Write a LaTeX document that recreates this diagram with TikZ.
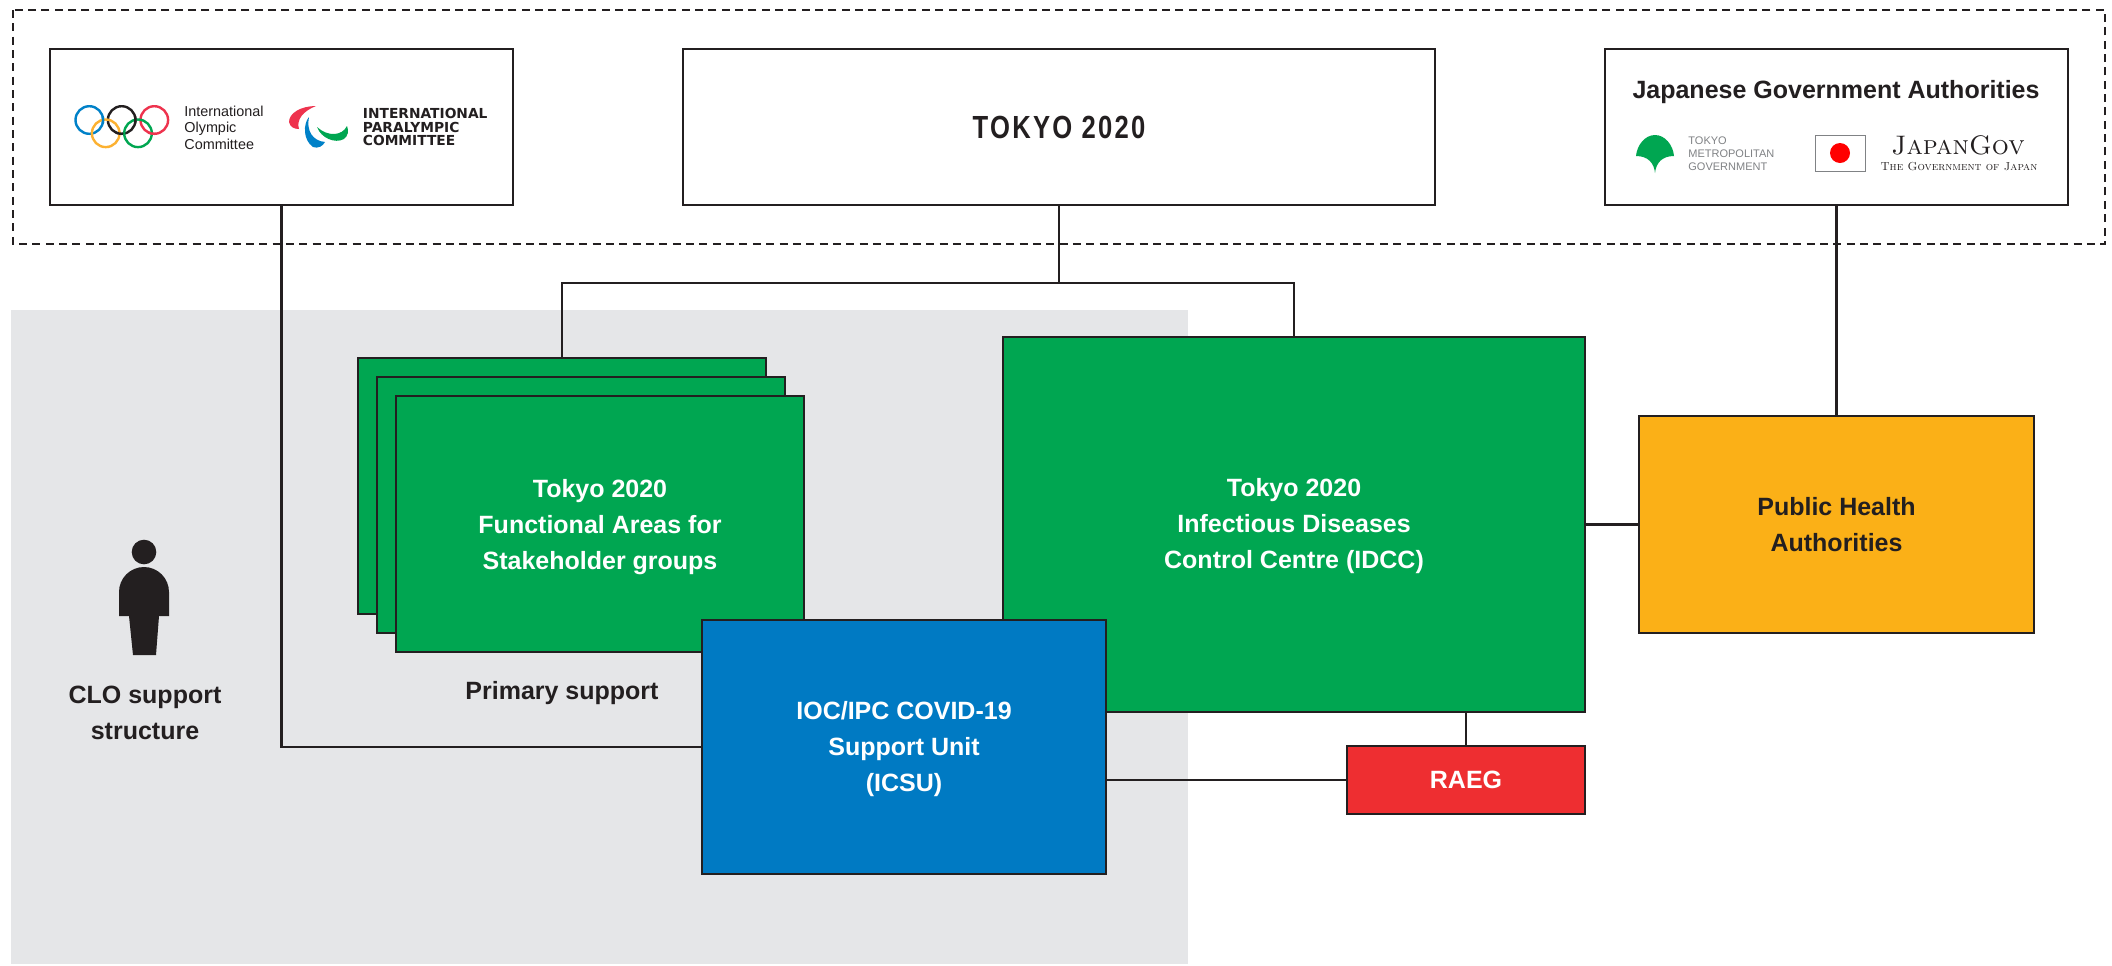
\documentclass[tikz,border=0pt]{standalone}
\usepackage{fontspec}
\setsansfont{Liberation Sans}
\newfontfamily\tokyofont[FakeStretch=0.8,LetterSpace=7]{Liberation Sans}
\newfontfamily\ipcfont{DejaVu Sans}
\usepackage{tikz}
\usetikzlibrary{positioning}
\definecolor{InkBlack}{HTML}{231F20}
\definecolor{SheetGrey}{HTML}{E5E6E8}
\definecolor{IdccGreen}{HTML}{00A651}
\definecolor{IcsuBlue}{HTML}{007AC3}
\definecolor{PhaYellow}{HTML}{FBB017}
\definecolor{RaegRed}{HTML}{EE2E31}
\definecolor{RingBlue}{HTML}{0081C8}
\definecolor{RingRed}{HTML}{EE334E}
\definecolor{RingYellow}{HTML}{FCB131}
\definecolor{GovGrey}{HTML}{808285}
\newcommand{\toppad}{\rule{0pt}{12.2pt}}
\newcommand{\toppadsmall}{\rule{0pt}{11pt}}
\tikzset{
  chartbox/.style={draw=InkBlack,line width=1.4pt,inner sep=0pt,outer sep=0pt,align=center,
    font=\sffamily\bfseries\fontsize{12.5}{18}\selectfont},
  whitebox/.style={chartbox,fill=white,text=InkBlack},
  colourbox/.style={chartbox,fill=#1,text=white},
  link/.style={draw=InkBlack,line width=1.3pt},
  plainlabel/.style={inner sep=0pt,outer sep=0pt,align=center,text=InkBlack,
    font=\sffamily\bfseries\fontsize{12.5}{18}\selectfont},
  ring/.style={line width=1.2pt,draw=#1}
}
\begin{document}
\begin{tikzpicture}[x=0.5pt,y=-0.5pt]
\useasboundingbox (0,0) rectangle (2112,965);
\fill[SheetGrey] (11,310) rectangle (1188,964);
\draw[InkBlack,line width=1.4pt,dash pattern=on 4pt off 2.67pt] (13,10) rectangle (2105,244);

\node[whitebox,minimum width=231.5pt,minimum height=78pt] (iocbox) at (281.5,127) {};
\node[whitebox,minimum width=376pt,minimum height=78pt] (tokyobox) at (1059,127)
{\tokyofont\bfseries\fontsize{16}{18}\selectfont TOKYO 2020};
\node[whitebox,minimum width=231.5pt,minimum height=78pt] (japanbox) at (1836.5,127) {};

\node[colourbox=IdccGreen,minimum width=204pt,minimum height=128pt] (fabox1) at (562,486) {};
\node[colourbox=IdccGreen,minimum width=204pt,minimum height=128pt] (fabox2) at (581,505) {};
\node[colourbox=IdccGreen,minimum width=204pt,minimum height=128pt] (fabox3) at (600,524)
{\toppad Tokyo 2020\\Functional Areas for\\Stakeholder groups};
\node[colourbox=IdccGreen,minimum width=291pt,minimum height=187.5pt] (idccbox) at (1294,524.5)
{\toppadsmall Tokyo 2020\\Infectious Diseases\\Control Centre (IDCC)};
\node[colourbox=PhaYellow,text=InkBlack,minimum width=197.5pt,minimum height=108.5pt] (phabox) at (1836.5,524.5)
{Public Health\\Authorities};
\node[colourbox=IcsuBlue,minimum width=202pt,minimum height=127pt] (icsubox) at (904,747)
{\toppadsmall IOC/IPC COVID-19\\Support Unit\\(ICSU)};
\node[colourbox=RaegRed,minimum width=119pt,minimum height=34pt] (raegbox) at (1466,780) {RAEG};

\node[plainlabel] (primarylabel) at (562,693) {Primary support};
\node[plainlabel] (clolabel) at (145,713) {CLO support\\structure};

\coordinate (tokyojoin) at (1059,283);
\draw[link] (iocbox.south) |- (icsubox.west);
\draw[link] (tokyobox.south) -- (tokyojoin);
\draw[link] (fabox1.north) |- (tokyojoin) -| (idccbox.north);
\draw[link] (japanbox.south) -- (phabox.north);
\draw[link] (idccbox.east) -- (phabox.west);
\draw[link] (raegbox.north) -- (raegbox.north |- idccbox.south);
\draw[link] (icsubox.east |- raegbox.west) -- (raegbox.west);

% person
\fill[InkBlack] (144,552) circle (12.3);
\fill[InkBlack] (119,592) arc (180:360:25) -- (169,616) -- (159,616) -- (156,655) -- (133,655) -- (129,616) -- (119,616) -- cycle;

% olympic rings
\foreach \cx/\cy/\c in {89.3/120/RingBlue,121.7/120/InkBlack,154.3/120/RingRed,105.7/133.3/RingYellow,138/133.3/IdccGreen}
  \draw[ring=\c] (\cx,\cy) circle (13.8);
\foreach \cx/\cy/\c/\px/\py in {89.3/120/RingBlue/103/120,121.7/120/InkBlack/119.5/133.5,121.7/120/InkBlack/135.5/119.8,154.3/120/RingRed/151.8/133.5}{
  \begin{scope}
    \clip (\px,\py) circle (4);
    \draw[ring=\c] (\cx,\cy) circle (13.8);
  \end{scope}
}
\node[inner sep=0pt,anchor=west,align=left,text=InkBlack,font=\sffamily\fontsize{7.2}{8.25}\selectfont] (ioclabel) at (184,127.5)
{International\\Olympic\\Committee};

% agitos
\fill[RingRed] (316,106) .. controls (301,106) and (289,113) .. (289,122) .. controls (290,127) and (294,129) .. (299,129) .. controls (296,120) and (303,111) .. (316,106) -- cycle;
\fill[RingBlue] (309,117) .. controls (303,124) and (303,140) .. (313,147) .. controls (318,149) and (323,146) .. (325,142) .. controls (313,141) and (306,131) .. (309,117) -- cycle;
\fill[IdccGreen] (317,127) .. controls (321,138) and (335,144) .. (344,139) .. controls (348,136) and (349,131) .. (347,126) .. controls (342,136) and (328,137) .. (317,127) -- cycle;
\node[inner sep=0pt,anchor=west,align=left,text=InkBlack,font=\ipcfont\bfseries\fontsize{6.9}{6.75}\selectfont] (ipclabel) at (362.5,127)
{INTERNATIONAL\\PARALYMPIC\\COMMITTEE};

% government logos
\node[plainlabel,font=\sffamily\bfseries\fontsize{12.5}{14}\selectfont] (govtitle) at (1836,92) {Japanese Government Authorities};
\fill[IdccGreen] (1655,173) .. controls (1654,163) and (1648,156) .. (1636,156) .. controls (1637,145) and (1645,135) .. (1655,135) .. controls (1665,135) and (1673,145) .. (1674,156) .. controls (1662,156) and (1656,163) .. (1655,173) -- cycle;
\node[inner sep=0pt,anchor=west,align=left,text=GovGrey,font=\sffamily\fontsize{5.5}{6.5}\selectfont] (tmglabel) at (1688,154)
{TOKYO\\METROPOLITAN\\GOVERNMENT};
\node[draw=GovGrey,line width=0.3pt,fill=white,inner sep=0pt,minimum width=25pt,minimum height=18pt] (flagbox) at (1840,153) {};
\fill[red] (flagbox.center) circle (10);
\node[inner sep=0pt,text=InkBlack,font=\rmfamily\fontsize{13.4}{14}\selectfont] (japangov) at (1958,145) {\scshape JapanGov};
\node[inner sep=0pt,text=InkBlack,font=\rmfamily\fontsize{5.8}{7}\selectfont] (japangovsub) at (1959,167) {\scshape The Government of Japan};
\end{tikzpicture}
\end{document}
